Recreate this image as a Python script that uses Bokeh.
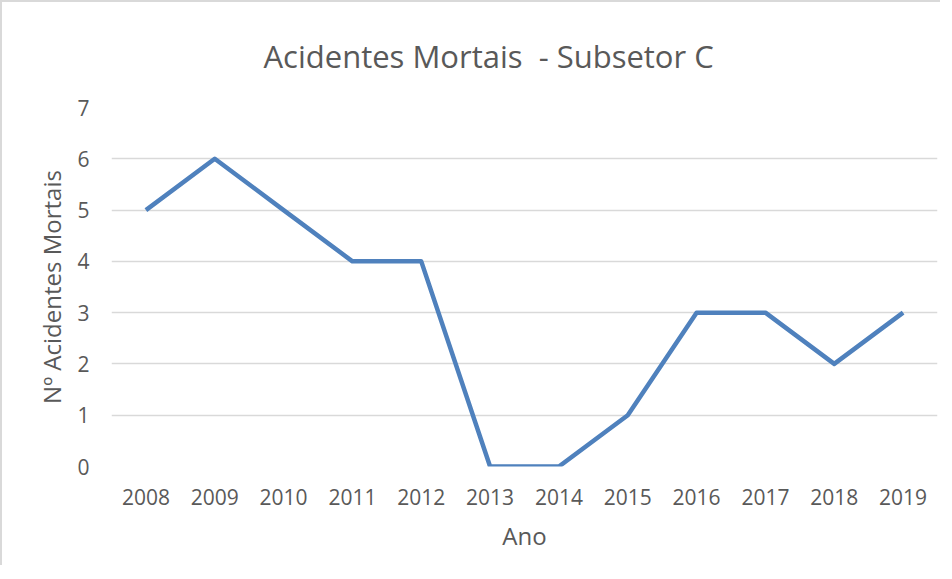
from bokeh.plotting import figure
from bokeh.models import FixedTicker, Range1d
from bokeh.embed import file_html
from bokeh.resources import INLINE

years = [2008, 2009, 2010, 2011, 2012, 2013, 2014, 2015, 2016, 2017, 2018, 2019]
deaths = [5, 6, 5, 4, 4, 0, 0, 1, 3, 3, 2, 3]
y_ticks = [0, 1, 2, 3, 4, 5, 6, 7]

TEXT = "#595959"
FONT = "Open Sans"

p = figure(width=940, height=565, output_backend="svg", toolbar_location=None,
           x_range=Range1d(2007.5, 2019.5), y_range=Range1d(0, 7),
           min_border_left=109, min_border_right=5, min_border_bottom=101, min_border_top=20,
           title="Acidentes Mortais \u00a0- Subsetor C")
p.styles = {"border-left": "2px solid #d9d9d9", "border-top": "2px solid #d9d9d9"}

p.line(years, deaths, line_color="#4F81BD", line_width=4.5, line_join="round")

p.title.text_font = FONT
p.title.text_font_size = "31px"
p.title.text_font_style = "normal"
p.title.text_color = TEXT
p.title.align = "left"
p.title.offset = 152
p.title.standoff = 61

p.outline_line_color = None
p.xgrid.grid_line_color = None
p.ygrid.grid_line_color = "#d9d9d9"
p.ygrid.grid_line_width = 1.5

p.xaxis.ticker = FixedTicker(ticks=years)
p.yaxis.ticker = FixedTicker(ticks=y_ticks)
for ax in (p.xaxis, p.yaxis):
    ax.axis_line_color = None
    ax.major_tick_line_color = None
    ax.minor_tick_line_color = None
    ax.major_label_text_font = FONT
    ax.major_label_text_font_size = "21px"
    ax.major_label_text_color = TEXT
    ax.axis_label_text_font = FONT
    ax.axis_label_text_font_size = "24px"
    ax.axis_label_text_font_style = "normal"
    ax.axis_label_text_color = TEXT

p.xaxis.axis_label = "Ano"
p.yaxis.axis_label = "Nº Acidentes Mortais"
p.xaxis.major_label_standoff = 16
p.yaxis.major_label_standoff = 16
p.xaxis.axis_label_standoff = 11
p.yaxis.axis_label_standoff = 6

open("out.html", "w").write(file_html(p, INLINE))
